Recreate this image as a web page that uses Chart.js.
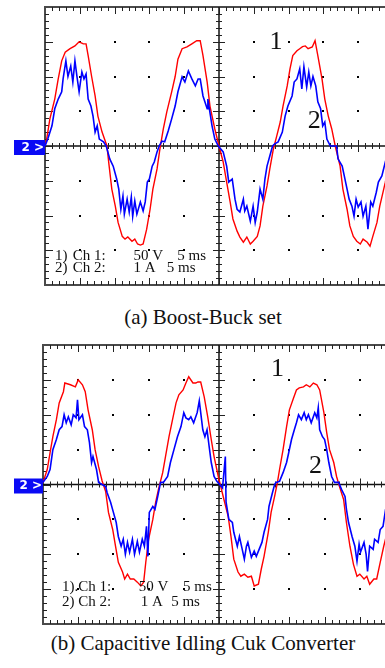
<!DOCTYPE html>
<html>
<head>
<meta charset="utf-8">
<script src="https://cdn.jsdelivr.net/npm/chart.js@4.4.0/dist/chart.umd.min.js"></script>
<style>
  html, body { margin: 0; padding: 0; background: #fff; overflow: hidden; width: 385px; height: 668px; }
  .panel { position: absolute; left: 0; }
  .caption { position: absolute; left: 0; width: 406px; text-align: center; font-family: "Liberation Serif", "DejaVu Serif", serif; font-size: 21px; line-height: 24px; color: #111; }
</style>
</head>
<body>
<div class="panel" style="top:0"><canvas id="scopeA" width="400" height="300"></canvas></div>
<div class="caption" style="top:305px">(a) Boost-Buck set</div>
<div class="panel" style="top:330px"><canvas id="scopeB" width="400" height="300"></canvas></div>
<div class="caption" style="top:631px">(b) Capacitive Idling Cuk Converter</div>
<script>
// time in ms (5 ms/div), amplitude in divisions (ch1 50 V/div, ch2 1 A/div)
const gridTimes = [5, 10, 15, 20, 25, 30, 35, 40, 45];
const gridLevels = [-3, -2, -1, 1, 2, 3];

// (a) Boost-Buck set
const aCh1Time = [0, 0.24, 0.7, 1.4, 1.9, 2.4, 2.9, 3.6, 4.3, 4.9, 5.5, 5.9, 6.2, 6.7, 7.2, 7.6, 8.2, 8.9, 9.2, 9.6, 10.1, 10.5, 11.1, 11.5, 11.9, 12.5, 12.9, 13.3, 13.7, 14.1, 14.6, 15.1, 15.5, 16.1, 16.5, 17.0, 17.5, 18.2, 18.7, 19.1, 19.7, 20.4, 21.1, 21.8, 22.3, 22.7, 23.3, 23.7, 24.4, 25.0, 25.6, 26.1, 26.6, 27.0, 27.6, 28.0, 28.5, 29.0, 29.5, 29.9, 30.5, 30.9, 31.3, 31.9, 32.3, 32.8, 33.3, 33.8, 34.2, 34.8, 35.2, 35.6, 36.2, 36.6, 37.0, 37.4, 37.8, 38.4, 38.8, 39.2, 39.8, 40.2, 40.7, 41.2, 41.7, 42.4, 42.8, 43.4, 43.8, 44.3, 44.8, 45.3, 45.7, 46.3, 46.7, 47.1, 47.7, 48.1, 48.9, 49.6];
const aCh1Volt = [0, 0.2, 0.78, 1.35, 1.93, 2.45, 2.7, 2.8, 2.88, 3.0, 2.94, 2.94, 2.6, 2.0, 1.44, 0.86, 0.4, 0, -0.55, -1.24, -1.73, -2.2, -2.6, -2.68, -2.62, -2.74, -2.68, -2.82, -2.85, -2.82, -2.4, -1.82, -1.24, -0.66, -0.1, 0.49, 0.98, 1.56, 2.0, 2.5, 2.8, 2.85, 2.94, 3.03, 3.03, 2.6, 1.84, 1.15, 0.49, 0, -0.46, -1.04, -1.61, -2.1, -2.45, -2.62, -2.77, -2.62, -2.82, -2.74, -2.6, -2.3, -1.73, -1.15, -0.66, -0.1, 0.29, 0.69, 1.15, 1.73, 2.22, 2.6, 2.74, 2.8, 2.86, 2.88, 2.8, 2.85, 3.03, 2.6, 1.93, 1.35, 0.86, 0.49, 0, -0.58, -1.24, -1.82, -2.3, -2.6, -2.74, -2.82, -2.68, -2.77, -2.88, -2.6, -2.2, -1.73, -1.04, -0.3];
const aCh2Time = [0, 0.4, 1.0, 1.4, 1.9, 2.4, 2.6, 3.0, 3.3, 3.7, 4.0, 4.3, 4.6, 4.9, 5.3, 5.6, 5.9, 6.2, 6.6, 6.9, 7.2, 7.5, 7.8, 8.4, 8.8, 9.3, 9.8, 10.3, 10.6, 10.9, 11.2, 11.4, 11.8, 12.1, 12.4, 12.6, 12.9, 13.2, 13.7, 14.1, 14.4, 14.7, 15.0, 15.4, 15.7, 16.1, 16.4, 16.8, 17.2, 17.7, 18.2, 18.7, 19.1, 19.7, 20.1, 20.6, 21.1, 21.6, 22.0, 22.3, 22.7, 23.3, 23.4, 24.0, 24.4, 24.9, 25.6, 26.1, 26.4, 26.9, 27.3, 27.6, 28.0, 28.5, 28.7, 29.0, 29.5, 29.9, 30.2, 30.5, 30.9, 31.3, 31.6, 31.9, 32.3, 32.7, 33.0, 33.5, 34.1, 34.5, 34.9, 35.5, 35.8, 36.2, 36.6, 36.9, 37.2, 37.6, 37.9, 38.2, 38.5, 38.9, 39.2, 39.6, 39.9, 40.2, 40.5, 41.0, 41.9, 42.1, 42.7, 43.0, 43.4, 43.7, 44.1, 44.4, 44.7, 45.0, 45.4, 45.7, 46.1, 46.4, 46.8, 47.1, 47.6, 47.9, 48.4, 48.9, 49.5];
const aCh2Amp = [0, 0.2, 0.58, 1.07, 1.35, 1.56, 1.93, 2.45, 2.0, 2.3, 1.84, 2.45, 1.99, 1.56, 2.13, 1.93, 2.07, 1.35, 1.15, 0.86, 0.4, 0.58, 0.2, 0.12, 0, -0.37, -0.58, -0.95, -1.24, -1.82, -1.44, -1.96, -1.53, -1.9, -1.47, -2.02, -1.58, -1.96, -1.61, -1.87, -1.61, -1.04, -0.95, -0.58, -0.46, -0.17, 0, 0.14, 0.12, 0.43, 0.78, 1.15, 1.56, 1.99, 1.84, 2.16, 1.93, 1.73, 1.93, 1.93, 1.44, 1.07, 1.35, 0.58, 0.2, 0, -0.17, -0.58, -1.04, -0.95, -1.53, -1.82, -1.9, -1.53, -1.87, -1.73, -2.16, -1.73, -2.2, -1.9, -1.24, -1.53, -0.95, -0.58, -0.29, 0, 0.06, 0.12, 0.4, 0.86, 1.15, 1.44, 1.84, 1.93, 2.22, 1.64, 2.28, 1.7, 2.13, 1.73, 2.0, 1.73, 1.27, 1.07, 0.58, 0.69, 0.2, 0, 0, -0.37, -0.58, -0.86, -1.24, -1.53, -1.73, -2.02, -1.53, -1.76, -1.61, -2.02, -1.73, -2.39, -1.61, -1.73, -1.33, -1.04, -0.86, -0.46, 0];

// (b) Capacitive Idling Cuk Converter
const bCh1Time = [0, 0.6, 1.0, 1.4, 1.9, 2.3, 2.9, 3.1, 3.9, 4.6, 5.0, 5.6, 6.0, 6.4, 7.0, 7.4, 7.9, 8.4, 8.9, 9.3, 9.9, 10.3, 10.7, 11.3, 11.6, 12.0, 12.4, 12.9, 13.4, 13.9, 14.3, 14.6, 15.0, 15.6, 16.0, 16.4, 17.0, 17.4, 17.9, 18.4, 18.9, 19.3, 19.9, 20.3, 20.7, 21.3, 21.7, 22.0, 22.4, 22.9, 23.4, 23.9, 24.3, 24.9, 25.3, 25.7, 26.3, 26.7, 27.1, 27.7, 28.1, 28.6, 29.1, 29.6, 30.0, 30.6, 31.0, 31.4, 32.0, 32.4, 32.9, 33.3, 33.6, 34.1, 34.6, 35.0, 35.6, 36.0, 36.4, 37.0, 37.4, 37.9, 38.4, 38.9, 39.3, 39.9, 40.3, 40.7, 41.3, 41.7, 42.1, 42.7, 43.1, 43.6, 44.1, 44.6, 45.0, 45.6, 46.0, 46.4, 47.0, 47.4, 47.9, 48.4, 48.9, 49.5];
const bCh1Volt = [0.06, 0.43, 0.91, 1.37, 1.86, 2.34, 2.66, 2.91, 2.86, 2.8, 3.0, 2.86, 2.66, 2.14, 1.57, 1.0, 0.51, 0.1, -0.2, -0.8, -1.29, -1.77, -2.23, -2.51, -2.71, -2.57, -2.71, -2.71, -2.8, -2.91, -2.8, -2.23, -1.57, -1.0, -0.51, -0.14, 0.34, 0.8, 1.37, 1.86, 2.34, 2.57, 2.71, 2.91, 3.09, 2.91, 2.91, 2.94, 2.94, 2.51, 1.94, 1.29, 0.8, 0.23, -0.1, -0.43, -0.91, -1.49, -2.14, -2.51, -2.63, -2.57, -2.66, -2.63, -2.91, -2.86, -2.43, -2.06, -1.37, -0.8, -0.34, 0.06, 0.43, 1.0, 1.66, 2.14, 2.49, 2.71, 2.77, 2.8, 2.86, 2.8, 2.91, 2.86, 2.71, 2.06, 1.49, 1.0, 0.63, 0.23, -0.05, -0.43, -1.09, -1.77, -2.29, -2.63, -2.57, -2.71, -2.63, -2.86, -2.71, -2.71, -2.23, -1.77, -1.37, -0.8];
const bCh2Time = [0, 0.6, 1.0, 1.4, 1.9, 2.3, 2.7, 3.0, 3.3, 3.6, 4.0, 4.3, 4.7, 4.9, 5.1, 5.6, 5.9, 6.3, 6.6, 6.9, 7.1, 7.6, 7.9, 8.4, 8.9, 9.1, 9.6, 10.0, 10.4, 10.7, 11.1, 11.4, 11.7, 12.0, 12.3, 12.7, 13.0, 13.4, 13.7, 14.1, 14.4, 14.7, 14.9, 15.1, 15.6, 15.9, 16.3, 16.7, 17.1, 17.7, 18.1, 18.6, 19.1, 19.6, 20.0, 20.3, 20.7, 21.0, 21.4, 21.9, 22.2, 22.7, 23.0, 23.3, 23.6, 23.9, 24.3, 24.7, 25.1, 25.5, 25.9, 26.0, 26.4, 26.9, 27.1, 27.6, 27.9, 28.3, 28.6, 28.9, 29.1, 29.6, 30.0, 30.3, 30.7, 31.1, 31.4, 31.9, 32.1, 32.6, 32.9, 33.1, 33.6, 34.1, 34.6, 34.9, 35.3, 35.7, 36.0, 36.3, 36.7, 37.1, 37.4, 37.7, 38.1, 38.6, 38.9, 39.1, 39.3, 39.7, 40.0, 40.3, 40.6, 41.0, 41.4, 42.0, 42.4, 42.9, 43.1, 43.4, 43.9, 44.3, 44.6, 44.9, 45.1, 45.6, 45.9, 46.1, 46.4, 46.9, 47.1, 47.6, 47.9, 48.3, 48.6, 48.9, 49.3];
const bCh2Amp = [0.06, 0.23, 0.43, 1.0, 1.29, 1.57, 1.66, 2.0, 1.77, 1.94, 1.71, 2.0, 1.91, 2.43, 1.86, 2.0, 1.66, 1.57, 1.2, 0.63, 0.8, 0.43, 0.06, 0, -0.06, -0.23, -0.51, -0.8, -1.09, -1.49, -1.77, -1.57, -2.0, -1.66, -1.94, -1.57, -2.0, -1.63, -1.94, -1.57, -1.77, -1.2, -2.06, -0.8, -0.63, -0.71, -0.34, 0.06, 0.06, 0.23, 0.63, 1.0, 1.37, 1.66, 2.06, 1.91, 1.86, 1.94, 1.77, 2.06, 2.4, 1.57, 1.37, 1.57, 1.09, 0.63, 0.23, 0.09, 0, -0.1, 0.8, -0.5, -1.0, -1.09, -1.37, -1.77, -1.49, -1.86, -2.14, -1.77, -1.66, -2.09, -1.91, -2.06, -1.86, -1.66, -1.37, -1.0, -0.63, -0.23, 0, 0.06, 0.09, 0.34, 0.63, 0.91, 1.29, 1.57, 1.77, 2.0, 1.86, 2.06, 1.86, 2.0, 1.77, 2.06, 1.91, 2.2, 1.57, 1.37, 1.29, 1.0, 0.63, 0.23, 0.06, 0.06, -0.14, -0.34, -0.71, -1.09, -1.49, -1.77, -2.2, -1.71, -1.94, -1.66, -2.0, -2.49, -1.77, -1.86, -1.57, -1.66, -1.29, -1.2, -0.8, -1.0, -0.4];

// screen notes: text, time (ms), level (div)
const notesA = [
  { text: "1", t: 33.2, v: 3.0, big: true },
  { text: "2", t: 38.7, v: 0.72, big: true },
  { text: "1)", t: 1.45, v: -3.17 }, { text: "Ch 1:", t: 4.0, v: -3.17 }, { text: "50 V", t: 12.7, v: -3.17 }, { text: "5 ms", t: 19.0, v: -3.17 },
  { text: "2)", t: 1.45, v: -3.52 }, { text: "Ch 2:", t: 4.0, v: -3.52 }, { text: "1 A", t: 12.7, v: -3.52 }, { text: "5 ms", t: 17.5, v: -3.52 }
];
const notesB = [
  { text: "1", t: 33.3, v: 3.3, big: true },
  { text: "2", t: 38.7, v: 0.53, big: true },
  { text: "1).", t: 2.7, v: -2.95 }, { text: "Ch 1:", t: 5.0, v: -2.95 }, { text: "50 V", t: 13.6, v: -2.95 }, { text: "5 ms", t: 19.9, v: -2.95 },
  { text: "2)", t: 2.7, v: -3.38 }, { text: "Ch 2:", t: 5.0, v: -3.38 }, { text: "1 A", t: 13.9, v: -3.38 }, { text: "5 ms", t: 18.2, v: -3.38 }
];

function points(times, values) {
  return times.map((t, i) => ({ x: t, y: values[i] }));
}

// oscilloscope graticule: frame, centre cross, minor ticks and division dots
const graticule = {
  id: "graticule",
  beforeDatasetsDraw(chart) {
    const { ctx, chartArea: a, scales: { x, y } } = chart;
    const cx = x.getPixelForValue(25);
    const cy = y.getPixelForValue(0);
    const line = (x1, y1, x2, y2) => { ctx.beginPath(); ctx.moveTo(x1, y1); ctx.lineTo(x2, y2); ctx.stroke(); };

    ctx.save();
    ctx.fillStyle = "#000";
    gridTimes.forEach((t) => {
      if (t === 25) return;
      gridLevels.forEach((v) => {
        ctx.fillRect(Math.round(x.getPixelForValue(t)) - 1, Math.round(y.getPixelForValue(v)) - 1, 2, 2);
      });
    });

    ctx.strokeStyle = "#4a4a4a";
    ctx.lineWidth = 2;
    ctx.strokeRect(a.left, a.top, a.right - a.left, a.bottom - a.top);

    ctx.strokeStyle = "#111";
    ctx.lineWidth = 1.5;
    line(a.left, cy, a.right, cy);
    line(cx, a.top, cx, a.bottom);

    ctx.lineWidth = 1;
    ctx.strokeStyle = "#222";
    for (let i = 1; i < 50; i++) {
      const px = Math.round(x.getPixelForValue(i)) + 0.5;
      const major = i % 5 === 0;
      line(px, a.top, px, a.top + (major ? 7 : 4));
      line(px, a.bottom, px, a.bottom - (major ? 7 : 4));
      line(px, cy - (major ? 6 : 3), px, cy + (major ? 6 : 3));
    }
    for (let i = -19; i < 20; i++) {
      const py = Math.round(y.getPixelForValue(i / 5)) + 0.5;
      const major = i % 5 === 0;
      line(a.left, py, a.left + (major ? 8 : 4), py);
      line(a.right, py, a.right - (major ? 8 : 4), py);
      line(cx - (major ? 6 : 3), py, cx + (major ? 6 : 3), py);
    }

    // channel 2 ground marker
    ctx.fillStyle = "#0a0af5";
    ctx.fillRect(14, cy - 6, a.left - 14, 15);
    ctx.fillStyle = "#fff";
    ctx.font = 'bold 12px "DejaVu Sans", sans-serif';
    ctx.textAlign = "right";
    ctx.textBaseline = "middle";
    ctx.fillText("2 >", a.left - 1, cy + 1.5);
    ctx.restore();
  },
  afterDatasetsDraw(chart, args, opts) {
    const { ctx, scales: { x, y } } = chart;
    ctx.save();
    ctx.fillStyle = "#111";
    ctx.textBaseline = "middle";
    opts.notes.forEach((n) => {
      ctx.font = n.big ? '26px "Liberation Serif", serif' : '15px "Liberation Serif", serif';
      ctx.textAlign = n.big ? "center" : "left";
      ctx.fillText(n.text, x.getPixelForValue(n.t), y.getPixelForValue(n.v));
    });
    ctx.restore();
  }
};

function makeScope(id, ch1, ch2, notes, padding) {
  return new Chart(document.getElementById(id), {
    type: "line",
    data: {
      datasets: [
        { label: "Ch 2", data: ch2, borderColor: "#0000ff", borderWidth: 1.6 },
        { label: "Ch 1", data: ch1, borderColor: "#ff0000", borderWidth: 1.4 }
      ]
    },
    options: {
      responsive: false,
      animation: false,
      devicePixelRatio: 1,
      layout: { padding: padding },
      elements: { point: { radius: 0 }, line: { tension: 0, fill: false } },
      scales: {
        x: { type: "linear", min: 0, max: 50, display: false },
        y: { min: -4, max: 4, display: false }
      },
      plugins: {
        legend: { display: false },
        tooltip: { enabled: false },
        graticule: { notes: notes }
      }
    },
    plugins: [graticule]
  });
}

makeScope("scopeA", points(aCh1Time, aCh1Volt), points(aCh2Time, aCh2Amp), notesA, { left: 45, top: 7, right: 7, bottom: 15 });
makeScope("scopeB", points(bCh1Time, bCh1Volt), points(bCh2Time, bCh2Amp), notesB, { left: 43, top: 15, right: 5, bottom: 6 });
</script>
</body>
</html>
